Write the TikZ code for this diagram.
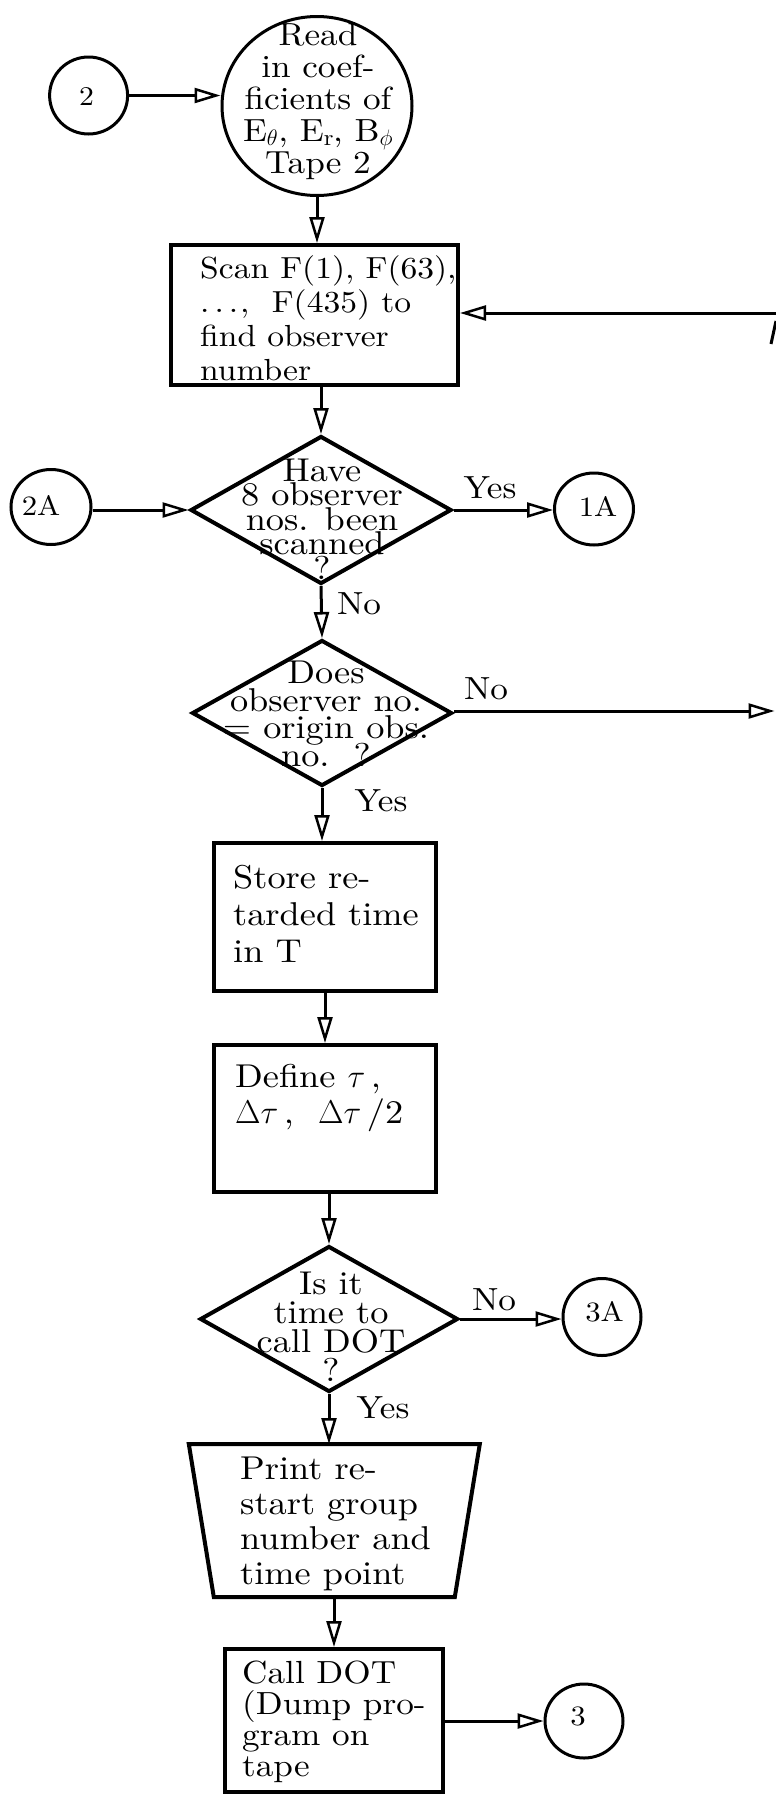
\RequirePackage{fix-cm}
\documentclass[tikz,border=0pt]{standalone}
\usepackage{fontspec}
\setmainfont{lmroman10-regular.otf}[FakeStretch=1.1]
\usetikzlibrary{shapes.geometric,arrows.meta,calc}
\lineskiplimit=-\maxdimen
\tikzset{
  boxshape/.style={draw, line width=4pt, rectangle, inner sep=0pt},
  dia/.style={draw, line width=4pt, diamond, inner sep=0pt},
  conn/.style={draw, line width=3pt, ellipse, inner sep=0pt},
  arr/.style={line width=3pt, -{Triangle[open,length=26pt,width=15pt,line width=2.5pt]}},
  lefttext/.style={inner sep=0pt, align=left, anchor=west},
  ctrtext/.style={inner sep=0pt, align=center},
  lbl/.style={inner sep=0pt, font=\fontsize{32}{32}\selectfont},
  clbl/.style={inner sep=0pt, font=\fontsize{28}{28}\selectfont}
}
\begin{document}
\begin{tikzpicture}[x=1pt,y=-1pt]
\useasboundingbox (0,0) rectangle (776,1794);

% connectors (circles)
\node[conn, minimum width=78pt, minimum height=77pt] (c2) at (88.6,95.5) {};
\node[clbl, font=\fontsize{27}{27}\selectfont] (c2t) at (86.5,96.5) {2};
\node[conn, minimum width=80pt, minimum height=75pt] (c2A) at (51,507) {};
\node[clbl] (c2At) at (41,505) {2A};
\node[conn, minimum width=79pt, minimum height=72pt] (c1A) at (594,509) {};
\node[clbl] (c1At) at (598,506) {1A};
\node[conn, minimum width=78pt, minimum height=77pt] (c3A) at (602,1317) {};
\node[clbl] (c3At) at (604.5,1312) {3A};
\node[conn, minimum width=78pt, minimum height=74pt] (c3) at (584,1721) {};
\node[clbl] (c3t) at (578,1716) {3};

% read (terminal ellipse)
\node[conn, minimum width=190pt, minimum height=179pt] (read) at (317,106) {};
\node[ctrtext, font=\fontsize{32}{32}\selectfont] (readt) at (318,101)
  {Read\\in coef-\\ficients of\\E$_\theta$, E$_\mathrm{r}$, B$_\phi$\\Tape 2};

% scan box
\node[boxshape, minimum width=287pt, minimum height=140pt] (scan) at (314.5,315) {};
\node[lefttext, font=\fontsize{30.5}{34}\selectfont] (scant) at (200,318)
  {Scan F(1), F(63),\\.\hspace{5pt}.\hspace{5pt}.\hspace{2pt},~~F(435) to\\find observer\\number};

% decision 1
\node[dia, minimum width=261pt, minimum height=148pt] (q1) at (321,510) {};
\node[ctrtext, font=\fontsize{33}{24.5}\selectfont] (q1t) at (322,519)
  {Have\\8 observer\\nos. been\\scanned\\?};

% decision 2
\node[dia, minimum width=260pt, minimum height=146pt] (q2) at (322,713) {};
\node[ctrtext, font=\fontsize{33}{27.5}\selectfont] (q2t) at (326,714)
  {Does\\observer no.\\= origin obs.\\no.~~?};

% store box
\node[boxshape, minimum width=222pt, minimum height=148pt] (store) at (325,917) {};
\node[lefttext, font=\fontsize{33}{37}\selectfont] (storet) at (233,914)
  {Store re-\\tarded time\\in T};

% define box
\node[boxshape, minimum width=222pt, minimum height=147pt] (define) at (325,1118.5) {};
\node[lefttext, font=\fontsize{33}{36}\selectfont] (definet) at (235,1098)
  {Define $\tau$\,,\\$\Delta\tau$\,,~~$\Delta\tau$\,/2};

% decision 3
\node[dia, minimum width=258pt, minimum height=146pt] (q3) at (329,1319) {};
\node[ctrtext, font=\fontsize{33}{29}\selectfont] (q3t) at (331,1327)
  {Is it\\time to\\call DOT\\?};

% print (trapezoid)
\node[inner sep=0pt, outer sep=2pt, minimum width=287pt, minimum height=149pt] (print) at (334.3,1520.5) {};
\draw[line width=4pt, line join=miter] (print.north west) -- (print.north east)
  -- ($(print.south east)+(-25,0)$) -- ($(print.south west)+(25,0)$) -- cycle;
\node[lefttext, font=\fontsize{33}{35}\selectfont] (printt) at (240,1524)
  {Print re-\\start group\\number and\\time point};

% call box
\node[boxshape, minimum width=218pt, minimum height=143pt] (call) at (334,1720.5) {};
\node[lefttext, font=\fontsize{32}{31}\selectfont] (callt) at (242,1722)
  {Call DOT\\(Dump pro-\\gram on\\tape};

% free ends
\coordinate (in1) at (776,313);
\coordinate (out1) at (774.5,711);

% connectors
\draw[arr] (c2.east) -- (c2.east -| read.west);
\draw[arr] (read.south) -- (read.south |- scan.north);
\draw[arr] (in1) -- (in1 -| scan.east);
\draw[arr] (q1.north |- scan.south) -- (q1.north);
\draw[arr] (q1.west -| c2A.east) -- (q1.west);
\draw[arr] (q1.east) -- (q1.east -| c1A.west);
\draw[arr] (q1.south) -- (q2.north);
\draw[arr] (q2.east |- out1) -- (out1);
\draw[arr] (q2.south) -- (q2.south |- store.north);
\draw[arr] (store.south) -- (define.north);
\draw[arr] (q3.north |- define.south) -- (q3.north);
\draw[arr] (q3.east) -- (q3.east -| c3A.west);
\draw[arr] (q3.south) -- (q3.south |- print.north);
\draw[arr] (print.south -| call.north) -- (call.north);
\draw[arr] (call.east |- c3.west) -- (c3.west);

% branch labels
\node[lbl] (yes1) at (490,488) {Yes};
\node[lbl] (no1) at (359,604) {No};
\node[lbl] (no2) at (486,689) {No};
\node[lbl] (yes2) at (381,801) {Yes};
\node[lbl] (no3) at (494,1300) {No};
\node[lbl] (yes3) at (383,1408) {Yes};

% cut-off label fragment at right edge
\draw[line width=3pt] (771,344) -- (776,321);
\end{tikzpicture}
\end{document}
